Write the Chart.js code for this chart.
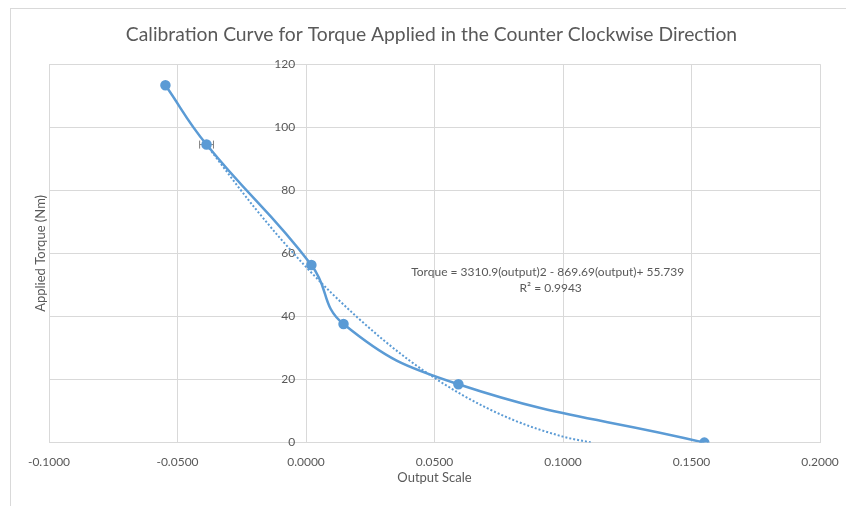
<!DOCTYPE html>
<html>
<head>
<meta charset="utf-8">
<script src="https://cdn.jsdelivr.net/npm/chart.js@4.4.1/dist/chart.umd.min.js"></script>
<style>
  html, body { margin: 0; padding: 0; background: #fff; }
  #frame { position: absolute; left: 10px; top: 8px; width: 836px; height: 498px;
           border-left: 1px solid #d9d9d9; border-top: 1px solid #d9d9d9; }
  #wrap { position: absolute; left: 0; top: 0; width: 835px; height: 497px; }
</style>
</head>
<body>
<div id="frame"><div id="wrap"><canvas id="chart"></canvas></div></div>
<script>
// measured points
const outputScale = [-0.0547, -0.0387, 0.0021, 0.0146, 0.0593, 0.1550];
const appliedTorque = [113.3, 94.5, 56.3, 37.6, 18.5, 0];

// poly trendline
const trendX = [-0.0387, -0.02, 0, 0.02, 0.04, 0.06, 0.08, 0.10, 0.111];
const trendY = [94.4, 74.5, 55.7, 39.7, 26.2, 15.5, 7.4, 1.9, 0];

// horizontal error bar on the second point
const errPoint = [-0.0387, 94.5];
const errSize = 0.0027;

const xTicks = [-0.1, -0.05, 0, 0.05, 0.1, 0.15, 0.2];
const yTicks = [0, 20, 40, 60, 80, 100, 120];

const eqLines = ['Torque = 3310.9(output)2 - 869.69(output)+ 55.739', 'R\u00b2 = 0.9943'];

const blue = '#5B9BD5';
const grey = '#595959';
const font = 'Lato, "Open Sans", sans-serif';

const extras = {
  id: 'extras',
  beforeDatasetsDraw(chart) {
    const ctx = chart.ctx, x = chart.scales.x, y = chart.scales.y;
    const px0 = x.getPixelForValue(errPoint[0] - errSize);
    const px1 = x.getPixelForValue(errPoint[0] + errSize);
    const py = y.getPixelForValue(errPoint[1]);
    ctx.save();
    ctx.strokeStyle = '#7f7f7f';
    ctx.lineWidth = 1;
    ctx.beginPath();
    ctx.moveTo(px0, py); ctx.lineTo(px1, py);
    ctx.moveTo(px0, py - 4); ctx.lineTo(px0, py + 4);
    ctx.moveTo(px1, py - 4); ctx.lineTo(px1, py + 4);
    ctx.stroke();
    ctx.restore();
  },
  afterDraw(chart) {
    const ctx = chart.ctx, a = chart.chartArea;
    ctx.save();
    ctx.fillStyle = grey;
    ctx.font = '12px ' + font;
    ctx.textAlign = 'center';
    ctx.textBaseline = 'middle';
    const cx = a.left + (a.right - a.left) * 0.652;
    ctx.fillText(eqLines[0], cx - 4, a.top + 208);
    ctx.fillText(eqLines[1], cx - 1, a.top + 224);
    ctx.restore();
  }
};

new Chart(document.getElementById('chart'), {
  type: 'scatter',
  data: {
    datasets: [
      {
        label: 'Applied Torque',
        data: outputScale.map((v, i) => ({ x: v, y: appliedTorque[i] })),
        showLine: true,
        borderColor: blue,
        backgroundColor: blue,
        borderWidth: 2.5,
        pointRadius: 4,
        pointHoverRadius: 4,
        tension: 0.45,
        order: 1
      },
      {
        label: 'Poly. trendline',
        data: trendX.map((v, i) => ({ x: v, y: trendY[i] })),
        showLine: true,
        borderColor: blue,
        borderWidth: 2,
        borderDash: [2, 2],
        pointRadius: 0,
        tension: 0.4,
        cubicInterpolationMode: 'monotone',
        order: 2
      }
    ]
  },
  options: {
    responsive: true,
    maintainAspectRatio: false,
    animation: false,
    layout: { padding: { top: 0, right: 0, bottom: 22, left: 6 } },
    plugins: {
      legend: { display: false },
      tooltip: { enabled: false },
      title: {
        display: true,
        text: 'Calibration Curve for Torque Applied in the Counter Clockwise Direction',
        color: grey,
        font: { family: font, size: 19.3, weight: 'normal' },
        padding: { top: 14, bottom: 18 }
      }
    },
    scales: {
      x: {
        type: 'linear',
        min: xTicks[0],
        max: xTicks[xTicks.length - 1],
        afterBuildTicks: s => { s.ticks = xTicks.map(v => ({ value: v })); },
        afterFit: s => { s.paddingLeft = 0; s.paddingRight = 0; },
        grid: { color: '#d9d9d9', drawTicks: false },
        border: { display: false },
        ticks: {
          color: grey,
          padding: 12,
          font: { family: font, size: 12 },
          callback: v => Number(v).toFixed(4)
        },
        title: {
          display: true,
          text: 'Output Scale',
          color: grey,
          font: { family: font, size: 13, lineHeight: 1 },
          padding: { top: -10, bottom: 0 }
        }
      },
      y: {
        type: 'linear',
        // labels sit ~11px left of the x = 0 line, as in the original
        position: { x: -0.0042 },
        min: yTicks[0],
        max: yTicks[yTicks.length - 1],
        afterBuildTicks: s => { s.ticks = yTicks.map(v => ({ value: v })); },
        grid: { color: '#d9d9d9', drawTicks: false },
        border: { display: false },
        ticks: {
          color: grey,
          font: { family: font, size: 12 }
        }
      },
      yTitle: {
        type: 'linear',
        position: 'left',
        min: 0,
        max: 120,
        grid: { display: false },
        border: { display: false },
        ticks: { display: false },
        afterFit: s => { s.width = 32; },
        title: {
          display: true,
          text: 'Applied Torque (Nm)',
          color: grey,
          font: { family: font, size: 13 },
          padding: { top: 16, bottom: 0 }
        }
      },
      yRight: {
        type: 'linear',
        position: 'right',
        min: 0,
        max: 120,
        grid: { display: false },
        border: { display: false },
        ticks: { display: false },
        afterFit: s => { s.width = 26; }
      }
    }
  },
  plugins: [extras]
});
</script>
</body>
</html>
